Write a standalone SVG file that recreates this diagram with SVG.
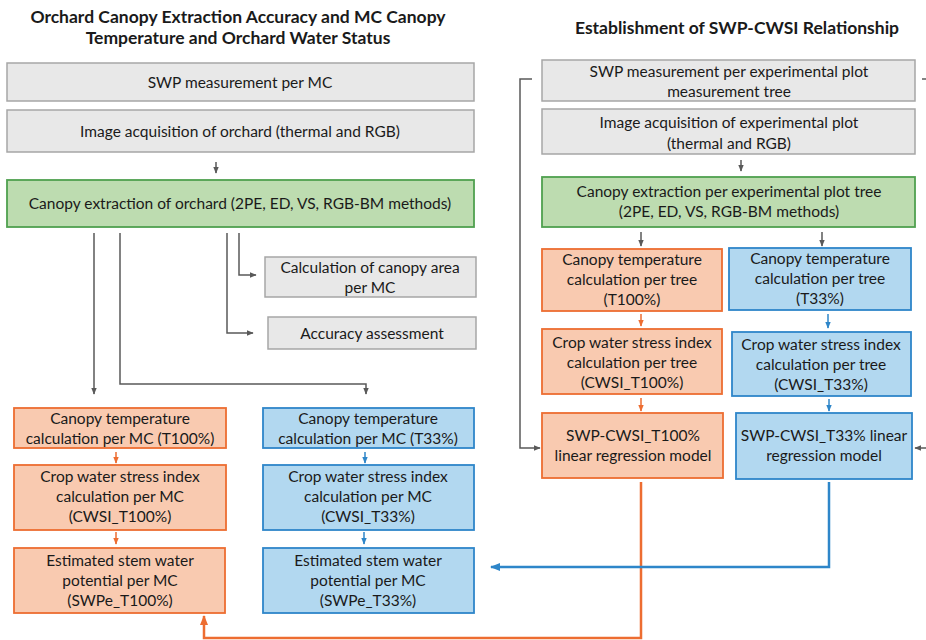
<svg xmlns="http://www.w3.org/2000/svg" width="926" height="640" viewBox="0 0 926 640">
  <defs>
    <marker id="ah-gray" viewBox="0 0 10 10" refX="9" refY="5" markerWidth="7" markerHeight="7" markerUnits="userSpaceOnUse" orient="auto">
      <path d="M0,1 L10,5 L0,9 Z" fill="#595959"/>
    </marker>
    <marker id="ah-orange" viewBox="0 0 10 10" refX="9" refY="5" markerWidth="7" markerHeight="7" markerUnits="userSpaceOnUse" orient="auto">
      <path d="M0,1 L10,5 L0,9 Z" fill="#ed6d31"/>
    </marker>
    <marker id="ah-blue" viewBox="0 0 10 10" refX="9" refY="5" markerWidth="7" markerHeight="7" markerUnits="userSpaceOnUse" orient="auto">
      <path d="M0,1 L10,5 L0,9 Z" fill="#2e86c9"/>
    </marker>
    <marker id="ah-orange-big" viewBox="0 0 10 10" refX="9" refY="5" markerWidth="10" markerHeight="10" markerUnits="userSpaceOnUse" orient="auto">
      <path d="M0,1 L10,5 L0,9 Z" fill="#ed6d31"/>
    </marker>
    <marker id="ah-blue-big" viewBox="0 0 10 10" refX="9" refY="5" markerWidth="10" markerHeight="10" markerUnits="userSpaceOnUse" orient="auto">
      <path d="M0,1 L10,5 L0,9 Z" fill="#2e86c9"/>
    </marker>
  </defs>
  <style>
    .t { font-family: Lato, "Liberation Sans", sans-serif; font-size: 15.5px; fill: #1a1a1a; text-anchor: middle; }
    .h { font-family: Lato, "Liberation Sans", sans-serif; font-size: 17.5px; font-weight: bold; fill: #1a1a1a; text-anchor: middle; }
    .gray { fill: #e8e8e8; stroke: #a6a6a6; stroke-width: 1.5; }
    .green { fill: #bddcb0; stroke: #4fa04f; stroke-width: 1.8; }
    .orange { fill: #f9cab0; stroke: #ed6d31; stroke-width: 1.8; }
    .blue { fill: #b2d8f0; stroke: #2e86c9; stroke-width: 1.8; }
    .c-gray { fill: none; stroke: #595959; stroke-width: 1.5; }
    .c-orange { fill: none; stroke: #ed6d31; stroke-width: 1.5; }
    .c-blue { fill: none; stroke: #2e86c9; stroke-width: 1.5; }
    .c-orange-w { fill: none; stroke: #ed6d31; stroke-width: 2.5; }
    .c-blue-w { fill: none; stroke: #2e86c9; stroke-width: 2.5; }
  </style>
  <rect width="926" height="640" fill="#ffffff"/>

  <!-- section headings -->
  <text class="h" x="238" y="23">Orchard Canopy Extraction Accuracy and MC Canopy</text>
  <text class="h" x="238" y="44">Temperature and Orchard Water Status</text>
  <text class="h" x="737" y="34">Establishment of SWP-CWSI Relationship</text>

  <!-- connectors -->
  <g id="connectors">
    <!-- left column -->
    <path class="c-gray" d="M216,162 V173" marker-end="url(#ah-gray)"/>
    <path class="c-gray" d="M94,233 V394" marker-end="url(#ah-gray)"/>
    <path class="c-gray" d="M120,233 V384 H366 V394" marker-end="url(#ah-gray)"/>
    <path class="c-gray" d="M239,233 V275 H256" marker-end="url(#ah-gray)"/>
    <path class="c-gray" d="M227,233 V333 H253" marker-end="url(#ah-gray)"/>
    <path class="c-orange" d="M116,452 V463" marker-end="url(#ah-orange)"/>
    <path class="c-orange" d="M116,532 V544" marker-end="url(#ah-orange)"/>
    <path class="c-blue" d="M365,452 V463" marker-end="url(#ah-blue)"/>
    <path class="c-blue" d="M364,532 V544" marker-end="url(#ah-blue)"/>

    <!-- right column -->
    <path class="c-gray" d="M741,160 V171" marker-end="url(#ah-gray)"/>
    <path class="c-gray" d="M532,79 H520 V448 H540" marker-end="url(#ah-gray)"/>
    <path class="c-gray" d="M922,79 H926"/>
    <path class="c-gray" d="M926,448 H915" marker-end="url(#ah-gray)"/>
    <path class="c-gray" d="M641,232 V246" marker-end="url(#ah-gray)"/>
    <path class="c-gray" d="M822,232 V246" marker-end="url(#ah-gray)"/>
    <path class="c-orange" d="M641,314 V326" marker-end="url(#ah-orange)"/>
    <path class="c-orange" d="M641,398 V411" marker-end="url(#ah-orange)"/>
    <path class="c-blue" d="M828,314 V328" marker-end="url(#ah-blue)"/>
    <path class="c-blue" d="M829,399 V411" marker-end="url(#ah-blue)"/>

    <!-- model outputs back to the orchard estimates -->
    <path class="c-orange-w" d="M641,482 V638 H204 V616" marker-end="url(#ah-orange-big)"/>
    <path class="c-blue-w" d="M829,482 V567 H491" marker-end="url(#ah-blue-big)"/>
  </g>

  <!-- left section nodes -->
  <g id="swp-mc">
    <rect class="gray" x="7" y="63" width="467" height="38"/>
    <text class="t" x="240" y="88">SWP measurement per MC</text>
  </g>
  <g id="image-orchard">
    <rect class="gray" x="7" y="110" width="467" height="42"/>
    <text class="t" x="240" y="137">Image acquisition of orchard (thermal and RGB)</text>
  </g>
  <g id="extract-orchard">
    <rect class="green" x="7" y="180" width="467" height="47"/>
    <text class="t" x="240" y="209">Canopy extraction of orchard (2PE, ED, VS, RGB-BM methods)</text>
  </g>
  <g id="canopy-area">
    <rect class="gray" x="265" y="257" width="211" height="40"/>
    <text class="t" x="370" y="273">Calculation of canopy area</text>
    <text class="t" x="370" y="293">per MC</text>
  </g>
  <g id="accuracy">
    <rect class="gray" x="268" y="317" width="208" height="32"/>
    <text class="t" x="372" y="339">Accuracy assessment</text>
  </g>
  <g id="temp-mc-100">
    <rect class="orange" x="14" y="408" width="212" height="40"/>
    <text class="t" x="120" y="424">Canopy temperature</text>
    <text class="t" x="120" y="444">calculation per MC (T100%)</text>
  </g>
  <g id="temp-mc-33">
    <rect class="blue" x="263" y="408" width="211" height="40"/>
    <text class="t" x="368" y="424">Canopy temperature</text>
    <text class="t" x="368" y="444">calculation per MC (T33%)</text>
  </g>
  <g id="cwsi-mc-100">
    <rect class="orange" x="14" y="465" width="212" height="65"/>
    <text class="t" x="120" y="482">Crop water stress index</text>
    <text class="t" x="120" y="502">calculation per MC</text>
    <text class="t" x="120" y="522">(CWSI_T100%)</text>
  </g>
  <g id="cwsi-mc-33">
    <rect class="blue" x="263" y="465" width="211" height="65"/>
    <text class="t" x="368" y="482">Crop water stress index</text>
    <text class="t" x="368" y="502">calculation per MC</text>
    <text class="t" x="368" y="522">(CWSI_T33%)</text>
  </g>
  <g id="swpe-100">
    <rect class="orange" x="14" y="548" width="211" height="65"/>
    <text class="t" x="120" y="566">Estimated stem water</text>
    <text class="t" x="120" y="586">potential per MC</text>
    <text class="t" x="120" y="606">(SWPe_T100%)</text>
  </g>
  <g id="swpe-33">
    <rect class="blue" x="263" y="548" width="211" height="65"/>
    <text class="t" x="368" y="566">Estimated stem water</text>
    <text class="t" x="368" y="586">potential per MC</text>
    <text class="t" x="368" y="606">(SWPe_T33%)</text>
  </g>

  <!-- right section nodes -->
  <g id="swp-plot">
    <rect class="gray" x="542" y="60" width="373" height="41"/>
    <text class="t" x="729" y="77">SWP measurement per experimental plot</text>
    <text class="t" x="729" y="97">measurement tree</text>
  </g>
  <g id="image-plot">
    <rect class="gray" x="542" y="109" width="373" height="45"/>
    <text class="t" x="729" y="128">Image acquisition of experimental plot</text>
    <text class="t" x="729" y="149">(thermal and RGB)</text>
  </g>
  <g id="extract-plot">
    <rect class="green" x="542" y="177" width="373" height="50"/>
    <text class="t" x="729" y="197">Canopy extraction per experimental plot tree</text>
    <text class="t" x="729" y="217">(2PE, ED, VS, RGB-BM methods)</text>
  </g>
  <g id="temp-tree-100">
    <rect class="orange" x="542" y="249" width="180" height="62"/>
    <text class="t" x="632" y="265">Canopy temperature</text>
    <text class="t" x="632" y="285">calculation per tree</text>
    <text class="t" x="632" y="305">(T100%)</text>
  </g>
  <g id="temp-tree-33">
    <rect class="blue" x="729" y="248" width="182" height="62"/>
    <text class="t" x="820" y="264">Canopy temperature</text>
    <text class="t" x="820" y="284">calculation per tree</text>
    <text class="t" x="820" y="304">(T33%)</text>
  </g>
  <g id="cwsi-tree-100">
    <rect class="orange" x="542" y="329" width="180" height="65"/>
    <text class="t" x="632" y="348">Crop water stress index</text>
    <text class="t" x="632" y="368">calculation per tree</text>
    <text class="t" x="632" y="388">(CWSI_T100%)</text>
  </g>
  <g id="cwsi-tree-33">
    <rect class="blue" x="732" y="332" width="179" height="64"/>
    <text class="t" x="821" y="350">Crop water stress index</text>
    <text class="t" x="821" y="370">calculation per tree</text>
    <text class="t" x="821" y="390">(CWSI_T33%)</text>
  </g>
  <g id="model-100">
    <rect class="orange" x="542" y="413" width="181" height="65"/>
    <text class="t" x="633" y="441">SWP-CWSI_T100%</text>
    <text class="t" x="633" y="461">linear regression model</text>
  </g>
  <g id="model-33">
    <rect class="blue" x="736" y="413" width="176" height="66"/>
    <text class="t" x="824" y="441">SWP-CWSI_T33% linear</text>
    <text class="t" x="824" y="461">regression model</text>
  </g>
</svg>
